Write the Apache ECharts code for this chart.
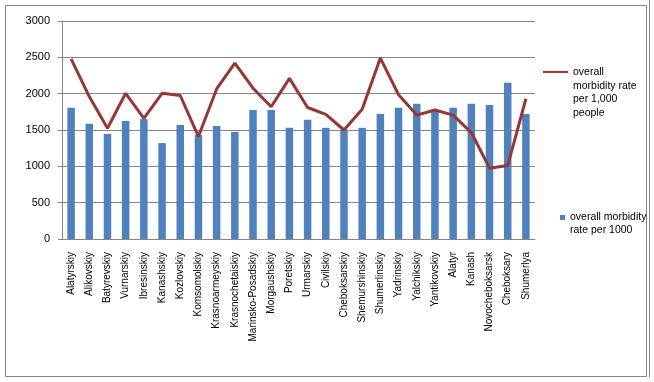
<!DOCTYPE html>
<html>
<head>
<meta charset="utf-8">
<script src="https://cdn.jsdelivr.net/npm/echarts@6/dist/echarts.min.js"></script>
<style>
  html, body { margin: 0; padding: 0; background: #fff; }
  #chart { width: 654px; height: 382px; }
</style>
</head>
<body>
<div id="chart"></div>
<script>
  const districts = [
    'Alatyrskiy', 'Alikovskiy', 'Batyrevskiy', 'Vurnarskiy', 'Ibresinskiy', 'Kanashskiy',
    'Kozlovskiy', 'Komsomolskiy', 'Krasnoarmeyskiy', 'Krasnochetaiskiy', 'Marinsko-Posadskiy',
    'Morgaushskiy', 'Poretskiy', 'Urmarskiy', 'Civilskiy', 'Cheboksarskiy', 'Shemurshinskiy',
    'Shumerlinskiy', 'Yadrinskiy', 'Yalchikskiy', 'Yantikovskiy', 'Alatyr', 'Kanash',
    'Novocheboksarsk', 'Cheboksary', 'Shumerlya'
  ];

  // bars: overall morbidity rate per 1000
  const barValues = [
    1805, 1585, 1445, 1625, 1650, 1320, 1570, 1430, 1555, 1475, 1775,
    1775, 1530, 1640, 1530, 1505, 1530, 1720, 1805, 1860, 1775, 1805,
    1860, 1845, 2150, 1720
  ];

  // line: overall morbidity rate per 1,000 people
  const lineValues = [
    2480, 1960, 1525, 2005, 1660, 2005, 1975, 1410, 2065, 2420, 2075,
    1820, 2210, 1810, 1715, 1500, 1785, 2490, 1985, 1705, 1775, 1705,
    1465, 975, 1010, 1930
  ];

  const yTicks = { min: 0, max: 3000, step: 500 };

  const barName = 'overall morbidity rate per 1000';
  const lineName = 'overall morbidity rate per 1,000 people';

  const font = 'Liberation Sans';
  const chart = echarts.init(document.getElementById('chart'));

  // leading blank lines keep the icon level with the first text line
  const option = {
    animation: false,
    backgroundColor: '#fff',
    grid: { left: 62, right: 119, top: 21, bottom: 143 },
    legend: [
      {
        data: [lineName],
        left: 538,
        top: 19,
        orient: 'vertical',
        itemWidth: 25,
        itemHeight: 2,
        icon: 'rect',
        formatter: () => '\n\n\noverall\nmorbidity rate\nper 1,000\npeople',
        textStyle: { fontFamily: font, fontSize: 10.5, color: '#000', lineHeight: 13.7 }
      },
      {
        data: [barName],
        left: 555,
        top: 193,
        orient: 'vertical',
        itemWidth: 5,
        itemHeight: 5,
        icon: 'rect',
        formatter: () => '\noverall morbidity\nrate per 1000',
        textStyle: { fontFamily: font, fontSize: 10.5, color: '#000', lineHeight: 13 }
      }
    ],
    xAxis: {
      type: 'category',
      data: districts,
      axisLine: { lineStyle: { color: '#868686' } },
      axisTick: { alignWithLabel: false, length: 5, lineStyle: { color: '#868686' } },
      axisLabel: {
        rotate: 90,
        interval: 0,
        margin: 13,
        fontFamily: font,
        fontSize: 10,
        color: '#000'
      }
    },
    yAxis: {
      type: 'value',
      min: yTicks.min,
      max: yTicks.max,
      interval: yTicks.step,
      axisLine: { show: true, lineStyle: { color: '#868686' } },
      axisTick: { show: true, length: 4, lineStyle: { color: '#868686' } },
      splitLine: { lineStyle: { color: '#868686' } },
      axisLabel: {
        margin: 12,
        fontFamily: font,
        fontSize: 11,
        color: '#000',
        formatter: v => String(v)
      }
    },
    series: [
      {
        name: barName,
        type: 'bar',
        data: barValues,
        barWidth: 7.5,
        itemStyle: { color: '#4F81BD' }
      },
      {
        name: lineName,
        type: 'line',
        data: lineValues,
        symbol: 'none',
        lineStyle: { color: '#953735', width: 3 },
        itemStyle: { color: '#953735' }
      }
    ],
    graphic: [
      {
        type: 'rect',
        shape: { x: 5.5, y: 5.5, width: 641, height: 371 },
        style: { fill: 'none', stroke: '#868686', lineWidth: 1 },
        silent: true
      },
      {
        type: 'line',
        shape: { x1: 649.5, y1: 0, x2: 649.5, y2: 377 },
        style: { stroke: '#868686', lineWidth: 1 },
        silent: true
      }
    ]
  };

  chart.setOption(option);
</script>
</body>
</html>
